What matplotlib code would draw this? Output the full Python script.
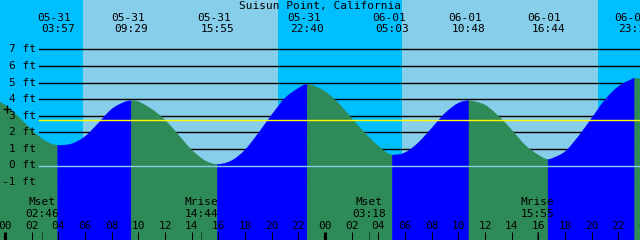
import matplotlib
matplotlib.use("Agg")
import matplotlib.pyplot as plt
import matplotlib.transforms as mtransforms
from matplotlib.path import Path
from matplotlib.patches import PathPatch

# ---------------- data ----------------
title = "Suisun Point, California"

# hours since 05-31 00:00 and tide height (ft)
hours = [-0.375, 0, 1, 2, 3, 3.95, 5, 6, 7, 8, 9, 9.48, 10, 11, 12, 13, 14, 15,
         15.92, 17, 18, 19, 20, 21, 22, 22.67, 23, 24, 25, 26, 27, 28, 29.05,
         30, 31, 32, 33, 34, 34.8, 35, 36, 37, 38, 39, 40, 40.73, 41, 42, 43,
         44, 45, 46, 47, 47.23, 47.625]
heights = [3.81, 3.64, 2.94, 2.14, 1.49, 1.22, 1.30, 1.74, 2.54, 3.39, 3.83, 3.90,
           3.84, 3.39, 2.74, 1.84, 0.93, 0.29, 0.07, 0.29, 0.93, 1.94, 3.04, 4.05,
           4.65, 4.89, 4.85, 4.45, 3.75, 2.84, 1.94, 1.17, 0.63, 0.77, 1.37, 2.24,
           3.14, 3.75, 3.90, 3.89, 3.64, 2.98, 2.14, 1.23, 0.63, 0.37, 0.41, 0.83,
           1.74, 2.84, 3.95, 4.75, 5.19, 5.25, 5.22]

# tide extremes: (date, time, day offset, kind)
ext_dates = ["05-31", "05-31", "05-31", "05-31", "06-01", "06-01", "06-01", "06-01"]
ext_times = ["03:57", "09:29", "15:55", "22:40", "05:03", "10:48", "16:44", "23:14"]
ext_days = [0, 0, 0, 0, 1, 1, 1, 1]
ext_kind = ["low", "high", "low", "high", "low", "high", "low", "high"]

# moon events
moon_names = ["Mset", "Mrise", "Mset", "Mrise"]
moon_times = ["02:46", "14:44", "03:18", "15:55"]
moon_days = [0, 0, 1, 1]

# sunrise / sunset (hours since 05-31 00:00)
sun_rise = [5.85, 29.75]
sun_set = [20.475, 44.475]

ft_levels = [7, 6, 5, 4, 3, 2, 1, 0, -1]
mean_level = 2.72
hour_labels = ["00", "02", "04", "06", "08", "10", "12", "14", "16", "18", "20", "22"]
marker_time, marker_level = 0.15, 3.39

# ---------------- style ----------------
W, H = 640, 240
C_NIGHT = "#00BFFF"
C_DAY = "#87CEEB"
C_RISE = "#0000FF"
C_FALL = "#2E8B57"
C_ZERO = "#87CEEB"
FONT = "DejaVu Sans Mono"
FS = 8

X0_PX, PX_PER_H = 5.0, 13.333
Y0_PX, PX_PER_FT = 165.5, 16.6

xmin = (0 - X0_PX) / PX_PER_H
xmax = (W - X0_PX) / PX_PER_H
ytop = Y0_PX / PX_PER_FT
ybot = -(H - Y0_PX) / PX_PER_FT


def hm(t, day):
    h, m = t.split(":")
    return day * 24 + int(h) + int(m) / 60.0


fig = plt.figure(figsize=(W / 100, H / 100), dpi=100)
ax = fig.add_axes([0, 0, 1, 1])
ax.set_xlim(xmin, xmax)
ax.set_ylim(ybot, ytop)
ax.axis("off")

# sky: day / night
ax.axvspan(xmin, xmax, color=C_NIGHT, zorder=0, lw=0)
for r, s in zip(sun_rise, sun_set):
    ax.axvspan(r, s, color=C_DAY, zorder=0.5, lw=0)

# grid lines (behind water)
gx = 39.3 / W
for lv in ft_levels:
    if lv != 0:
        ax.axhline(lv, xmin=gx, xmax=1, color="black", lw=1, zorder=1)

# ---- water: smooth curve (Hermite/Bezier) through the read points ----
ext_h = [hm(t, d) for t, d in zip(ext_times, ext_days)]
n = len(hours)
is_ext = [any(abs(h - e) < 0.02 for e in ext_h) for h in hours]
tang = []
for i in range(n):
    if is_ext[i]:
        tang.append(0.0)
    elif i == 0:
        tang.append((heights[1] - heights[0]) / (hours[1] - hours[0]))
    elif i == n - 1:
        tang.append((heights[-1] - heights[-2]) / (hours[-1] - hours[-2]))
    else:
        tang.append((heights[i + 1] - heights[i - 1]) / (hours[i + 1] - hours[i - 1]))

# split indices at extremes
splits = [0] + [i for i in range(n) if is_ext[i]] + [n - 1]
splits = sorted(set(splits))
for a, b in zip(splits[:-1], splits[1:]):
    verts = [(hours[a], ybot), (hours[a], heights[a])]
    codes = [Path.MOVETO, Path.LINETO]
    for i in range(a, b):
        dx = hours[i + 1] - hours[i]
        verts += [(hours[i] + dx / 3, heights[i] + tang[i] * dx / 3),
                  (hours[i + 1] - dx / 3, heights[i + 1] - tang[i + 1] * dx / 3),
                  (hours[i + 1], heights[i + 1])]
        codes += [Path.CURVE4] * 3
    verts += [(hours[b], ybot), (hours[a], ybot)]
    codes += [Path.LINETO, Path.CLOSEPOLY]
    rising = heights[b] > heights[a]
    ax.add_patch(PathPatch(Path(verts, codes), facecolor=C_RISE if rising else C_FALL,
                           edgecolor=C_RISE if rising else C_FALL, lw=0.3, zorder=2))

# zero line and mean level line
ax.axhline(0, xmin=gx, xmax=1, color=C_ZERO, lw=1, zorder=3)
ax.axhline(mean_level, xmin=gx, xmax=1, color="#FFFF00", lw=1, zorder=3)

# marker
ax.plot([marker_time], [marker_level], marker="+", color="black", ms=6, mew=1, zorder=4)

# transforms: x in data, y in pixels from top
tr_xd = mtransforms.blended_transform_factory(ax.transData, ax.transAxes)
tr_ad = mtransforms.blended_transform_factory(ax.transAxes, ax.transData)


def ypx(p):
    return 1 - p / H


# foot labels
for lv in ft_levels:
    ax.text(35.7 / W, lv, f"{lv} ft", transform=tr_ad,
            ha="right", va="center", fontsize=FS, family=FONT, color="black", zorder=5)

# title
ax.text(0.5, ypx(6), title, transform=ax.transAxes, ha="center", va="center",
        fontsize=FS, family=FONT, color="black", zorder=5)

# extreme labels
for d, t, x in zip(ext_dates, ext_times, ext_h):
    ax.text(x - 3.5 / PX_PER_H, ypx(17.7), d, transform=tr_xd, ha="center", va="center",
            fontsize=FS, family=FONT, color="black", zorder=5)
    ax.text(x, ypx(29.5), t, transform=tr_xd, ha="center", va="center",
            fontsize=FS, family=FONT, color="black", zorder=5)

# moon labels and ticks
for nm, t, d in zip(moon_names, moon_times, moon_days):
    x = hm(t, d)
    ax.text(x, ypx(201.7), nm, transform=tr_xd, ha="center", va="center",
            fontsize=FS, family=FONT, color="black", zorder=5)
    ax.text(x, ypx(213.8), t, transform=tr_xd, ha="center", va="center",
            fontsize=FS, family=FONT, color="black", zorder=5)
    ax.plot([x, x], [ypx(232), 0], transform=tr_xd, color="#1E4A30", lw=0.75, zorder=4)

# hour ticks and labels
for day in range(3):
    for i, lab in enumerate(hour_labels):
        x = day * 24 + i * 2
        if x > xmax + 1:
            continue
        ax.text(x, ypx(226.2), lab, transform=tr_xd, ha="center", va="center",
                fontsize=FS, family=FONT, color="black", zorder=5)
        lw = 2.2 if i == 0 else 0.75
        ax.plot([x, x], [ypx(232), 0], transform=tr_xd, color="black", lw=lw,
                zorder=4, solid_capstyle="butt")

fig.savefig("out.png", dpi=100)
